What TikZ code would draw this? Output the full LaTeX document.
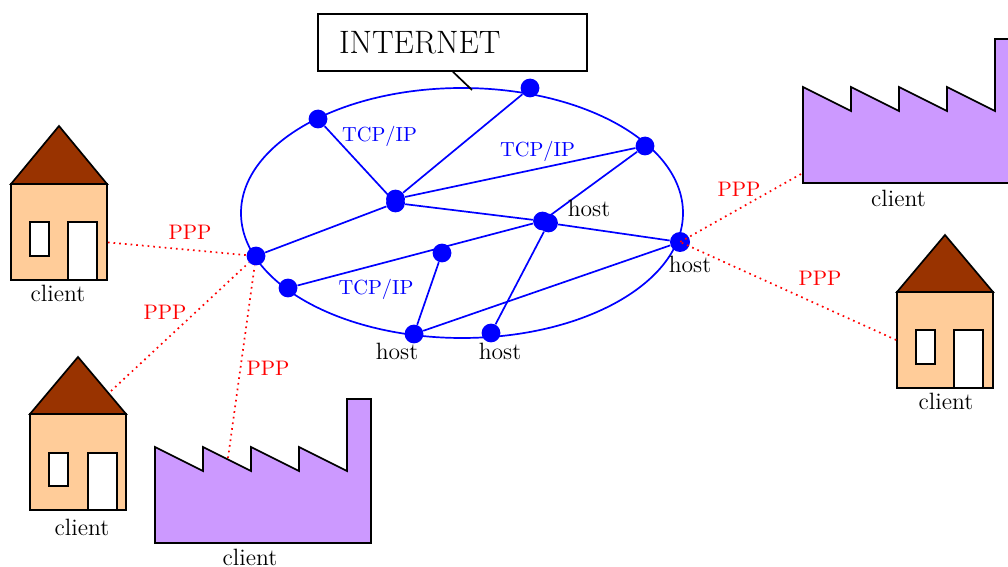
\documentclass[tikz,border=0pt]{standalone}
\usetikzlibrary{positioning}
\usepackage{xcolor}
\definecolor{roofbrown}{HTML}{993300}
\definecolor{wallpeach}{HTML}{FFCC99}
\definecolor{plantviolet}{HTML}{CC99FF}
\tikzset{
	dot/.style={fill=blue, circle, inner sep=0pt, minimum size=9.4pt},
	net/.style={blue, line width=0.85pt},
	ppp/.style={red, dotted, line width=0.85pt},
	wall/.style={draw=black, fill=wallpeach, line width=0.85pt, minimum size=48pt, inner sep=0pt},
	roof/.style={draw=black, fill=roofbrown, line width=0.85pt},
	pane/.style={draw=black, fill=white, line width=0.85pt},
	plant/.style={draw=black, fill=plantviolet, line width=0.85pt},
	toplabel/.style={font=\fontsize{11.8}{13}\selectfont, inner sep=0pt},
	proto/.style={font=\fontsize{10.2}{12}\selectfont, text=blue, inner sep=0pt},
	link/.style={font=\fontsize{10.5}{12}\selectfont, text=red, inner sep=0pt}
}

\begin{document}
\begin{tikzpicture}[x=0.5pt, y=-0.5pt]
	\clip (0,0) rectangle (1008,567);
	
	% Internet cloud and box
	\draw[net] (462,213) ellipse (221 and 125);
	\node[draw=black, line width=0.85pt, minimum width=134.5pt, minimum height=28.5pt, inner sep=0pt, text width=113.5pt, font=\fontsize{16.2}{18}\selectfont] (box) at (452.5,42.5) {INTERNET};
	\coordinate (boxtip) at (472,90);
	\draw[line width=0.85pt] (box.south -| 453,0) -- (boxtip);
	
	% Points on and inside the oval
	\node[dot] (p1) at (318,119) {};
	\node[dot] (p2) at (530,88) {};
	\node[dot] (p3) at (645,146) {};
	\node[dot] (p4) at (395.5,199) {};
	\node[dot] (p5) at (395.5,203) {};
	\node[dot] (p6) at (542.5,221) {};
	\node[dot] (p7) at (548.5,223) {};
	\node[dot, minimum size=10pt] (p8) at (680,242) {};
	\node[dot] (p9) at (256,256) {};
	\node[dot] (p10) at (288,288) {};
	\node[dot] (p11) at (442,253) {};
	\node[dot] (p12) at (414,334) {};
	\node[dot] (p13) at (491,333) {};
	
	% Lines between the points
	\draw[net] (p1) -- (p5);
	\draw[net] (p2) -- (p4);
	\draw[net] (p3) -- (p4);
	\draw[net] (p5) -- (p9);
	\draw[net] (p5) -- (p6);
	\draw[net] (p3) -- (p6);
	\draw[net] (p7) -- (p8);
	\draw[net] (p10) -- (p6);
	\draw[net] (p11) -- (p12);
	\draw[net] (p12) -- (p8);
	\draw[net] (p7) -- (p13);
	
	% First house
	\draw[roof] (11,184) -- (59,126) -- (107,184) -- cycle;
	\node[wall] (wall1) at (59,232) {};
	\draw[pane] (30,222) rectangle (49,256);
	\draw[pane] (68,222) rectangle (97,280);
	
	% Second house
	\draw[roof] (30,414) -- (78,357) -- (126,414) -- cycle;
	\node[wall] (wall2) at (78,462) {};
	\draw[pane] (49,453) rectangle (68,486);
	\draw[pane] (88,453) rectangle (117,510);
	\coordinate (roof2) at (111,391);
	
	% Third house
	\draw[roof] (897,292) -- (945,235) -- (993,292) -- cycle;
	\node[wall] (wall3) at (945,340) {};
	\draw[pane] (916,330) rectangle (935,364);
	\draw[pane] (954,330) rectangle (983,388);
	
	% Factories
	\draw[plant] (155,447) --++(48,24) --++(0,-24) --++(48,24) --++(0,-24) --++(48,24) --++(0,-24) --++(48,24) --++(0,-72) --++(24,0) --++(0,144) --++(-216,0) -- cycle;
	\coordinate (plant1) at (228,458);
	\draw[plant] (803,87) --++(48,24) --++(0,-24) --++(48,24) --++(0,-24) --++(48,24) --++(0,-24) --++(48,24) --++(0,-72) --++(24,0) --++(0,144) --++(-216,0) -- cycle;
	\coordinate (plant2) at (801,174);
	
	% PPP lines
	\draw[ppp] (wall1.-12) -- (p9);
	\draw[ppp] (roof2) -- (p9);
	\draw[ppp] (plant1) -- (p9);
	\draw[ppp] (plant2) -- (p8.center);
	\draw[ppp] (wall3.west) -- (p8.center);
	
	% Labels
	\node[proto] (tcp1) at (379.5,136) {TCP/IP};
	\node[proto] (tcp2) at (537.5,151) {TCP/IP};
	\node[proto] (tcp3) at (376,289) {TCP/IP};
	\node[link] (ppp1) at (190,232.5) {PPP};
	\node[link] (ppp2) at (165,312.5) {PPP};
	\node[link] (ppp3) at (268,368.5) {PPP};
	\node[link] (ppp4) at (739,189.5) {PPP};
	\node[link] (ppp5) at (820,278.5) {PPP};
	\node[toplabel] (host1) at (589,208) {host};
	\node[toplabel] (host2) at (690,264) {host};
	\node[toplabel] (host3) at (397,351) {host};
	\node[toplabel] (host4) at (500,351) {host};
	\node[toplabel] (client1) at (58,293) {client};
	\node[toplabel] (client2) at (82,527) {client};
	\node[toplabel] (client3) at (250,557.5) {client};
	\node[toplabel] (client4) at (898.5,198) {client};
	\node[toplabel] (client5) at (946,401) {client};
\end{tikzpicture}
\end{document}
